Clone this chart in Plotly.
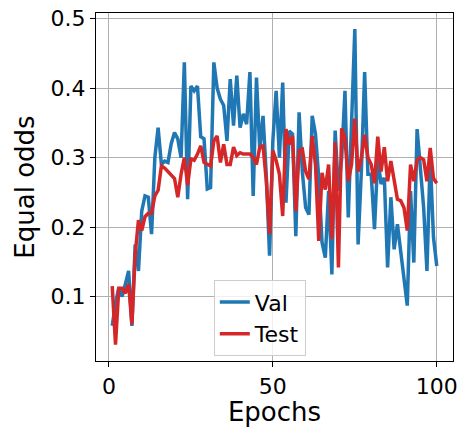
import plotly.graph_objects as go

epochs = list(range(1, 101))

val = [
    0.058, 0.090, 0.113, 0.100, 0.118, 0.137, 0.058, 0.175, 0.137, 0.223,
    0.245, 0.243, 0.190, 0.300, 0.343, 0.290, 0.295, 0.293, 0.320, 0.336,
    0.327, 0.300, 0.437, 0.240, 0.403, 0.396, 0.403, 0.330, 0.327, 0.255,
    0.257, 0.437, 0.400, 0.384, 0.375, 0.324, 0.413, 0.346, 0.418, 0.343,
    0.363, 0.348, 0.423, 0.245, 0.415, 0.312, 0.360, 0.274, 0.159, 0.324,
    0.396, 0.300, 0.408, 0.235, 0.338, 0.334, 0.187, 0.365, 0.279, 0.228,
    0.218, 0.360, 0.334, 0.271, 0.178, 0.156, 0.252, 0.132, 0.339, 0.252,
    0.300, 0.396, 0.214, 0.353, 0.485, 0.175, 0.281, 0.423, 0.276, 0.276,
    0.197, 0.300, 0.262, 0.271, 0.142, 0.243, 0.168, 0.204, 0.166, 0.123,
    0.087, 0.252, 0.149, 0.341, 0.286, 0.228, 0.137, 0.300, 0.185, 0.144,
]

test = [
    0.115, 0.031, 0.112, 0.112, 0.105, 0.118, 0.060, 0.160, 0.210, 0.195,
    0.215, 0.220, 0.220, 0.245, 0.253, 0.288, 0.285, 0.280, 0.275, 0.270,
    0.243, 0.276, 0.300, 0.260, 0.298, 0.296, 0.305, 0.317, 0.293, 0.290,
    0.288, 0.324, 0.331, 0.293, 0.319, 0.290, 0.290, 0.315, 0.303, 0.307,
    0.305, 0.305, 0.305, 0.300, 0.290, 0.315, 0.317, 0.267, 0.190, 0.310,
    0.296, 0.276, 0.216, 0.341, 0.319, 0.331, 0.223, 0.310, 0.312, 0.280,
    0.269, 0.331, 0.290, 0.180, 0.278, 0.254, 0.290, 0.183, 0.322, 0.142,
    0.342, 0.328, 0.266, 0.290, 0.356, 0.280, 0.300, 0.333, 0.300, 0.290,
    0.263, 0.330, 0.280, 0.315, 0.266, 0.295, 0.270, 0.240, 0.238, 0.228,
    0.195, 0.290, 0.266, 0.297, 0.300, 0.297, 0.266, 0.314, 0.270, 0.263,
]

x_ticks = [0, 50, 100]
y_ticks = [0.1, 0.2, 0.3, 0.4, 0.5]

fig = go.Figure()
fig.add_trace(go.Scatter(x=epochs, y=val, mode="lines", name="Val",
                         line=dict(color="#1f77b4", width=3.5)))
fig.add_trace(go.Scatter(x=epochs, y=test, mode="lines", name="Test",
                         line=dict(color="#d62728", width=3.5)))

axis_common = dict(
    showline=True, linecolor="black", linewidth=1.3, mirror=True,
    showgrid=True, gridcolor="#b0b0b0", gridwidth=1,
    ticks="outside", ticklen=5, tickcolor="black", tickwidth=1.2,
    zeroline=False, tickfont=dict(size=22, color="black"),
    automargin=False,
)

fig.update_layout(
    width=465, height=427,
    margin=dict(l=96, r=12, t=13, b=66),
    paper_bgcolor="white", plot_bgcolor="white",
    font=dict(family="DejaVu Sans", color="black"),
    xaxis=dict(range=[-3.95, 104.95], tickvals=x_ticks,
               title=dict(text="Epochs", font=dict(size=26), standoff=0),
               **axis_common),
    yaxis=dict(range=[0.0074, 0.508], tickvals=y_ticks,
               ticktext=[f"{v:.1f}" for v in y_ticks],
               title=dict(text="Equal odds", font=dict(size=26), standoff=8),
               **axis_common),
    legend=dict(x=0.33, y=0.232, xanchor="left", yanchor="top",
                bgcolor="rgba(255,255,255,0.8)", bordercolor="#cccccc",
                borderwidth=1, font=dict(size=22), tracegroupgap=0,
                entrywidth=100, entrywidthmode="pixels"),
    showlegend=True,
)

fig.write_html("out.html")
